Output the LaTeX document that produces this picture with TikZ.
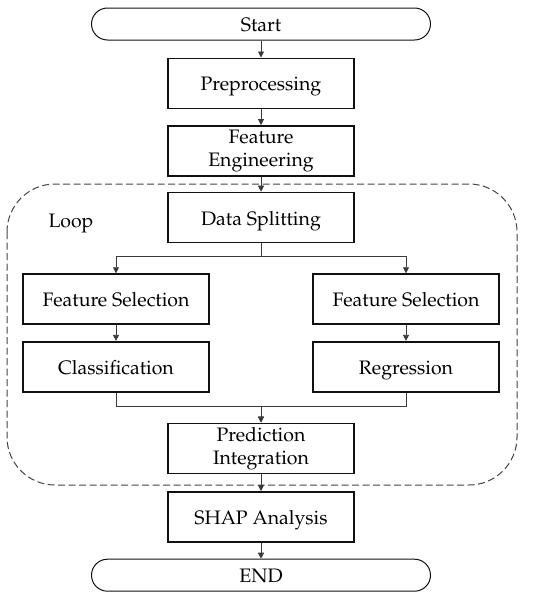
\documentclass[tikz,border=0pt]{standalone}
\usepackage[T1]{fontenc}
\usepackage{mathpazo}
\usepackage{tikz}
\usetikzlibrary{arrows.meta,positioning,calc}
\definecolor{ink}{HTML}{111111}
\definecolor{wire}{HTML}{3A3A3A}
\definecolor{frame}{HTML}{444444}

\begin{document}
\begin{tikzpicture}[>={Triangle[length=6pt,width=6pt]},font=\fontsize{19.5}{23}\selectfont]
\tikzset{proc/.style={draw=ink,line width=1.6pt,minimum width=186pt,minimum height=50pt,align=center,inner sep=2pt},
one/.style={text height=15pt,text depth=0pt},
term/.style={draw=ink,line width=1pt,rounded corners=16pt,minimum width=339pt,minimum height=32pt,one},
arr/.style={->,line width=0.7pt,draw=wire},
loopframe/.style={dashed,dash pattern=on 7pt off 3.5pt,line width=1pt,draw=frame,rounded corners=48pt}}
\useasboundingbox (0,0) rectangle (550pt,-605pt);
\node[term] (start) at (261pt,-24pt) {Start};
\node[proc,one,below=17pt of start] (pre) {Preprocessing};
\node[proc,below=16pt of pre] (fe) {Feature\\Engineering};
\node[proc,one,below=15pt of fe] (ds) {Data Splitting};
\node[proc,one,below=30pt of ds,xshift=-145pt] (fsl) {Feature Selection};
\node[proc,one,below=30pt of ds,xshift=145pt] (fsr) {Feature Selection};
\node[proc,one,below=16pt of fsl] (cls) {Classification};
\node[proc,one,below=16pt of fsr] (reg) {Regression};
\node[proc,below=30pt of ds |- cls.south] (pi) {Prediction\\Integration};
\node[proc,one,below=17pt of pi] (shap) {SHAP Analysis};
\node[term,below=16pt of shap] (end) {END};
\node[one] (loop) at (71pt,-220pt) {Loop};
\draw[loopframe] (7pt,-184pt) rectangle (517pt,-485pt);
\draw[arr] (start)--(pre); \draw[arr] (pre)--(fe); \draw[arr] (fe)--(ds);
\draw[arr] (ds.south)--++(0,-13pt)-|(fsl.north);
\draw[arr] (ds.south)--++(0,-13pt)-|(fsr.north);
\draw[arr] (fsl)--(cls); \draw[arr] (fsr)--(reg);
\draw[arr] (cls.south)--++(0,-14pt)-|(pi.north);
\draw[arr] (reg.south)--++(0,-14pt)-|(pi.north);
\draw[arr] (pi)--(shap); \draw[arr] (shap)--(end);
\end{tikzpicture}
\end{document}
